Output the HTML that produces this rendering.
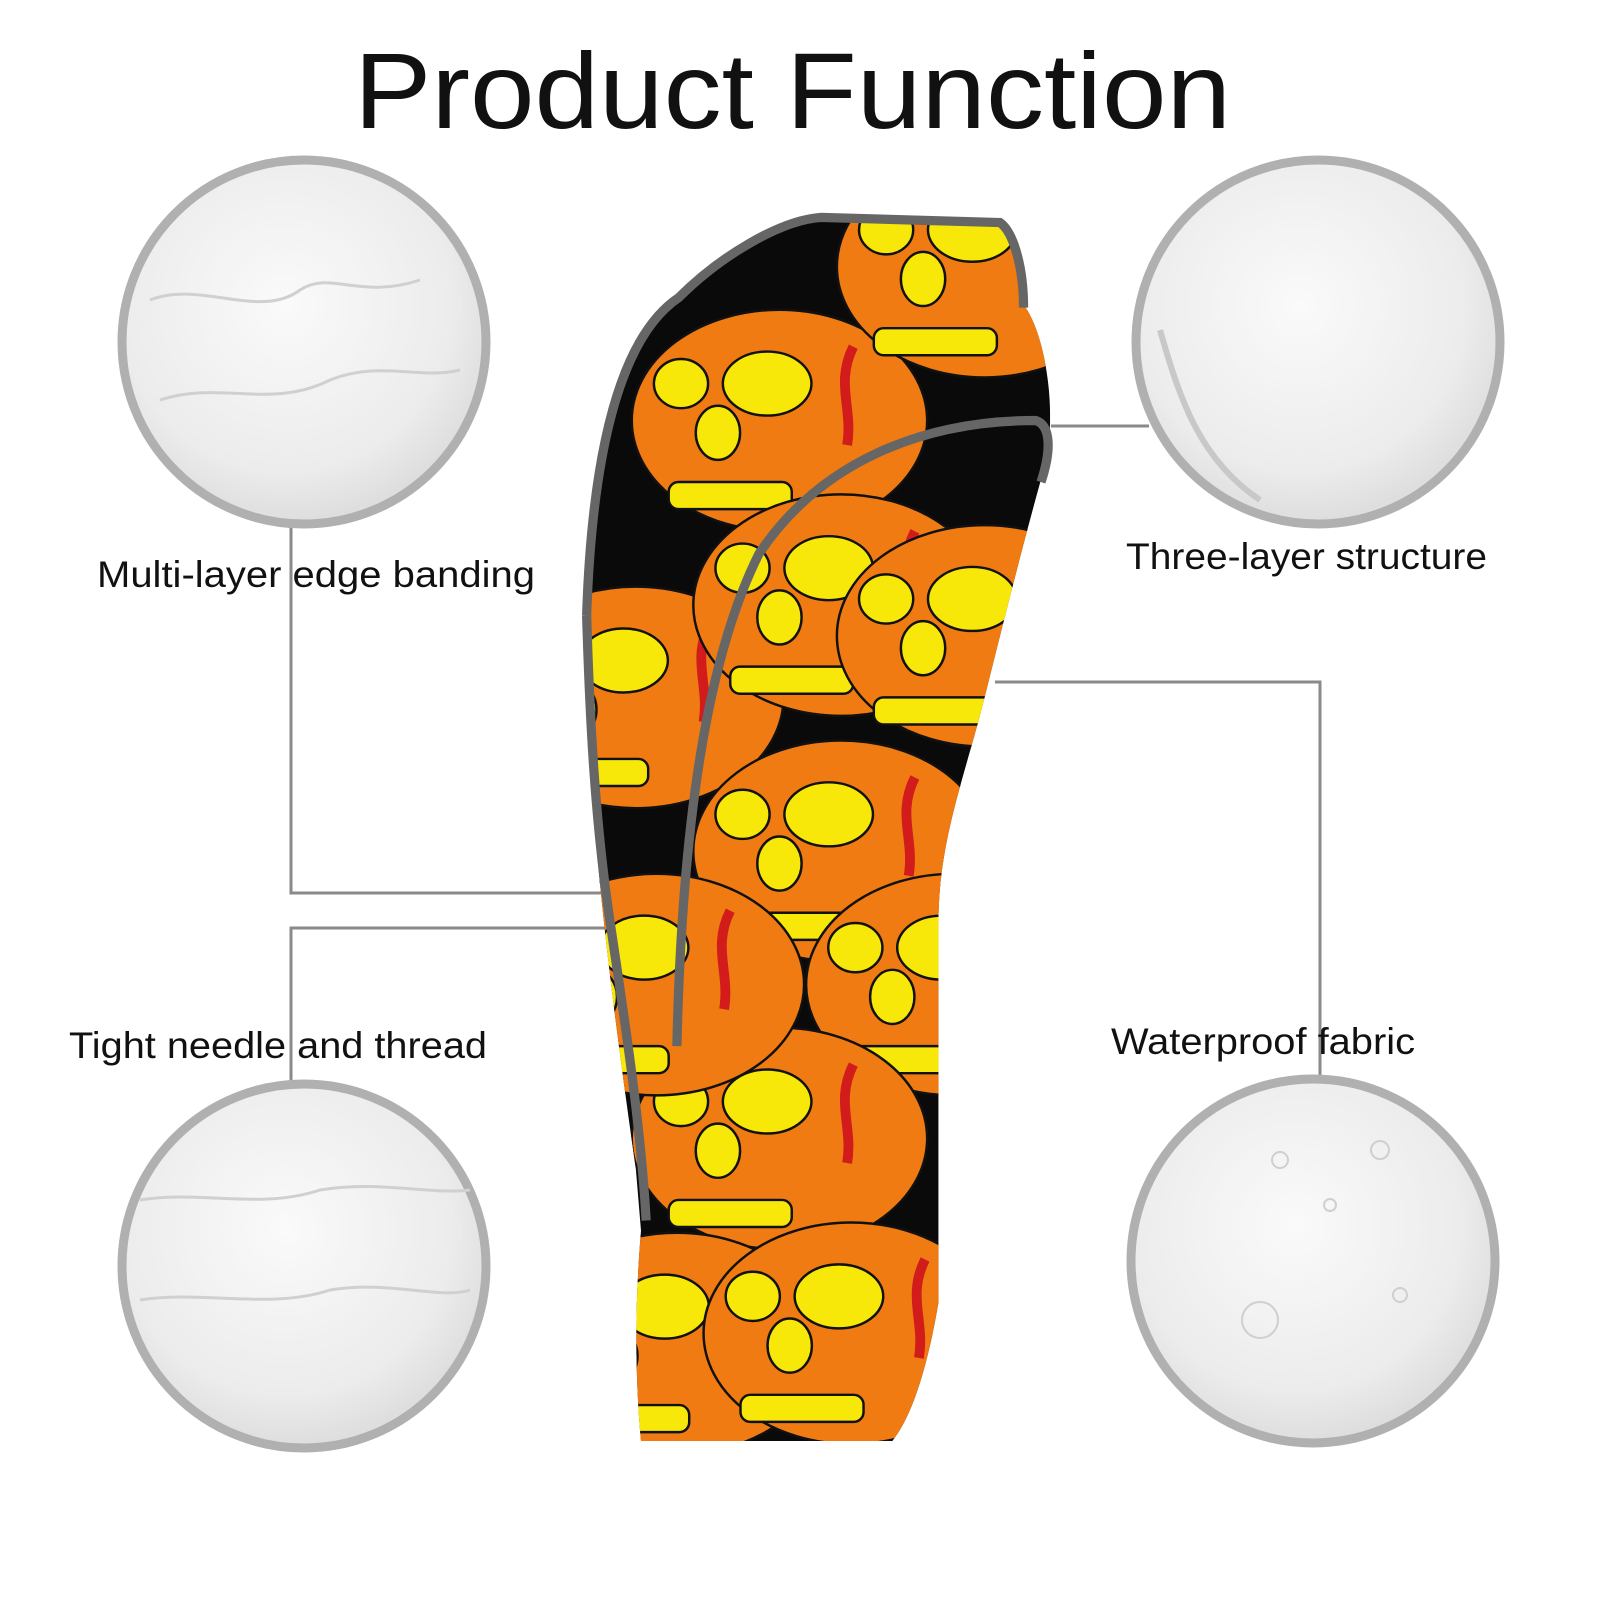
<!DOCTYPE html>
<html><head><meta charset="utf-8"><style>
html,body{margin:0;padding:0;background:#fff;width:1600px;height:1600px;overflow:hidden}
</style></head><body>
<svg width="1600" height="1600" viewBox="0 0 1600 1600" xmlns="http://www.w3.org/2000/svg">
<defs>
<radialGradient id="cg" cx="45%" cy="40%" r="65%"><stop offset="0" stop-color="#fafafa"/><stop offset="0.7" stop-color="#ececec"/><stop offset="1" stop-color="#d8d8d8"/></radialGradient>
<clipPath id="body"><path d="M570 600 C575 450 600 330 660 290 C700 250 760 215 800 210 L975 215 C990 225 1000 260 1000 300 C1020 330 1030 400 1020 450 C1000 520 980 600 960 680 C940 760 915 820 915 900 L915 1270 C905 1330 890 1380 870 1405 L625 1405 C618 1330 620 1260 625 1200 L620 1140 C600 1000 585 880 578 780 Z"/></clipPath>
<g id="sk0"><ellipse cx="0" cy="0" rx="120" ry="90" fill="#f07b12" stroke="#111" stroke-width="2"/><ellipse cx="-10" cy="-30" rx="36" ry="26" fill="#f7e80a" stroke="#111" stroke-width="2"/><ellipse cx="-80" cy="-30" rx="22" ry="20" fill="#f7e80a" stroke="#111" stroke-width="2"/><ellipse cx="-50" cy="10" rx="18" ry="22" fill="#f7e80a" stroke="#111" stroke-width="2"/><rect x="-90" y="50" width="100" height="22" rx="8" fill="#f7e80a" stroke="#111" stroke-width="2"/><path d="M60 -60 C45 -30 60 -10 55 20" stroke="#d21c1c" stroke-width="8" fill="none"/></g>
<g id="sk"><use href="#sk0" transform="scale(1.2)"/></g>
</defs>
<text x="354" y="128" font-family="Liberation Sans, sans-serif" font-size="108" fill="#111" textLength="877" lengthAdjust="spacingAndGlyphs">Product Function</text>

<g stroke="#8a8a8a" stroke-width="3" fill="none">
<polyline points="291,525 291,893 605,893"/>
<polyline points="610,928 291,928 291,1082"/>
<polyline points="1051,426 1149,426"/>
<polyline points="995,682 1320,682 1320,1082"/>
</g>

<g stroke="#b0b0b0" stroke-width="9" fill="url(#cg)">
<circle cx="304" cy="342" r="182"/>
<circle cx="1318" cy="342" r="182"/>
<circle cx="304" cy="1266" r="182"/>
<circle cx="1313" cy="1261" r="182"/>
</g>
<g fill="none" stroke="#d0d0d0" stroke-width="3">
<path d="M150 300 C200 280 260 320 300 290 C330 270 360 300 420 280"/>
<path d="M160 400 C220 380 270 410 330 380 C380 360 420 380 460 370"/>
<path d="M1160 330 C1180 400 1200 460 1260 500" stroke="#c8c8c8" stroke-width="6"/>
<path d="M140 1200 C200 1190 260 1210 320 1190 C380 1180 430 1195 470 1190"/>
<path d="M140 1300 C200 1290 270 1310 330 1290 C390 1280 440 1300 470 1290"/>
</g>
<g fill="none" stroke="#cfcfcf" stroke-width="2">
<circle cx="1260" cy="1320" r="18"/><circle cx="1280" cy="1160" r="8"/><circle cx="1380" cy="1150" r="9"/><circle cx="1400" cy="1295" r="7"/><circle cx="1330" cy="1205" r="6"/>
</g>

<g font-family="Liberation Sans, sans-serif" font-size="37" fill="#111">
<text x="97" y="587" textLength="438" lengthAdjust="spacingAndGlyphs">Multi-layer edge banding</text>
<text x="1126" y="569" textLength="361" lengthAdjust="spacingAndGlyphs">Three-layer structure</text>
<text x="69" y="1058" textLength="418" lengthAdjust="spacingAndGlyphs">Tight needle and thread</text>
<text x="1111" y="1054" textLength="304" lengthAdjust="spacingAndGlyphs">Waterproof fabric</text>
</g>

<g transform="scale(1.0256)">
<g clip-path="url(#body)">
<rect x="550" y="190" width="500" height="1230" fill="#0a0a0a"/>
<use href="#sk" x="760" y="410"/>
<use href="#sk" x="960" y="260"/>
<use href="#sk" x="620" y="680"/>
<use href="#sk" x="820" y="590"/>
<use href="#sk" x="960" y="620"/>
<use href="#sk" x="820" y="830"/>
<use href="#sk" x="930" y="960"/>
<use href="#sk" x="760" y="1110"/>
<use href="#sk" x="660" y="1310"/>
<use href="#sk" x="830" y="1300"/>
<use href="#sk" x="640" y="960"/>
</g>
<path d="M572 600 C577 450 602 330 662 290 C702 250 760 215 800 212 L975 217 C988 226 998 260 998 300" fill="none" stroke="#666" stroke-width="9"/>
<path d="M572 600 C575 700 580 800 595 900 C610 1000 625 1100 630 1190" fill="none" stroke="#666" stroke-width="9"/>
<path d="M660 1020 C665 800 690 640 740 540 C800 450 900 410 1010 410 C1025 415 1025 440 1015 470" fill="none" stroke="#666" stroke-width="9"/>
</g>
</svg>
</body></html>
